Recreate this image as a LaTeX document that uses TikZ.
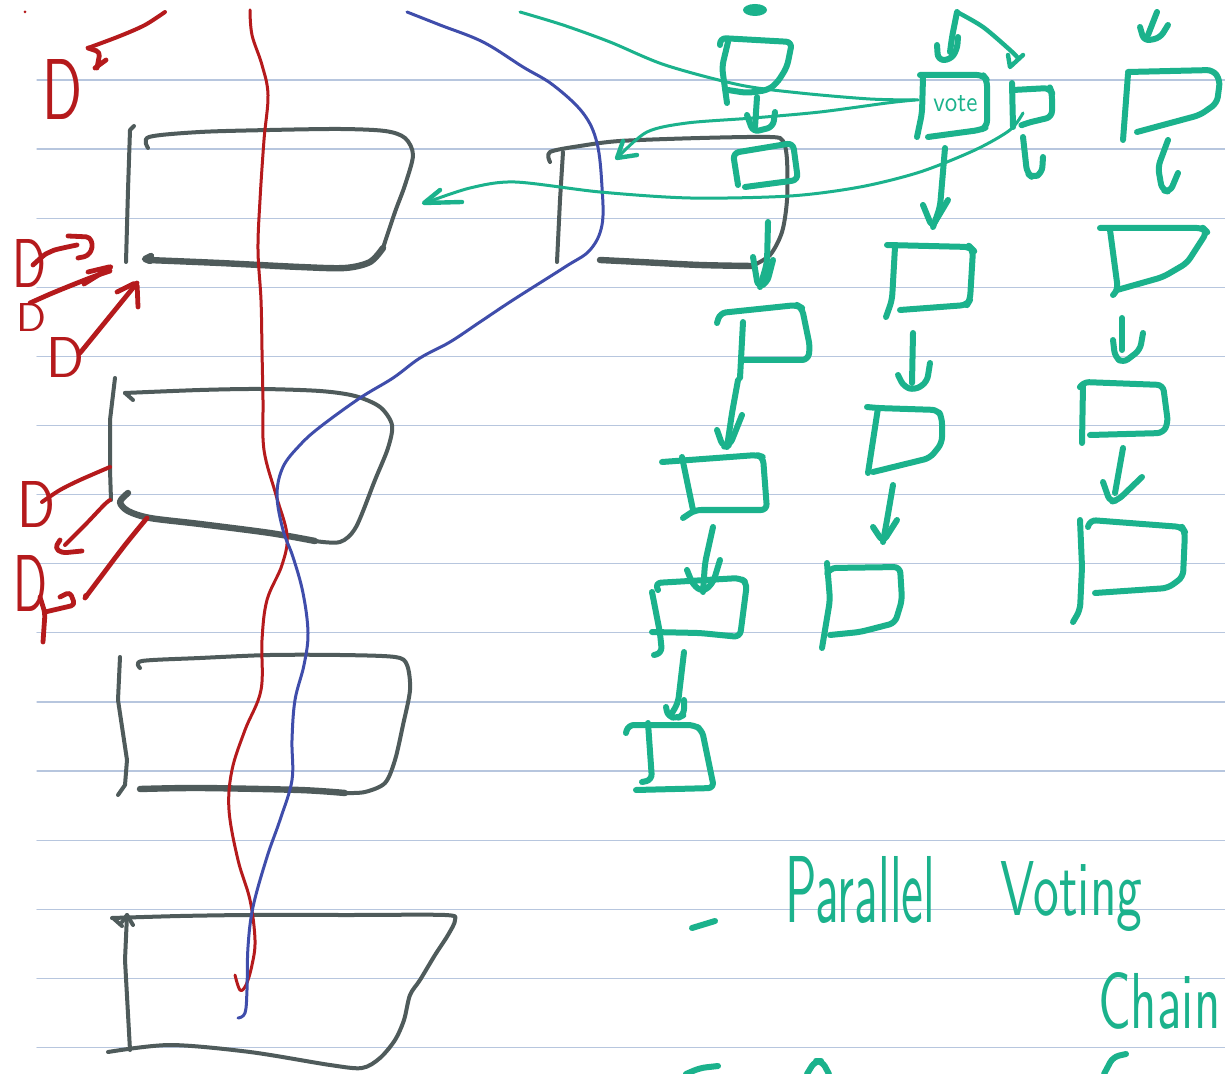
\documentclass[tikz,border=0pt]{standalone}
\usepackage{graphicx}
\definecolor{ruleblue}{HTML}{B7C6DE}
\definecolor{slate}{HTML}{4F5B5B}
\definecolor{penred}{HTML}{B51A1C}
\definecolor{penblue}{HTML}{3F4DAB}
\definecolor{pengreen}{HTML}{1BB28C}
\begin{document}
\begin{tikzpicture}[x=0.5pt,y=-0.5pt,line cap=round,line join=round,
  rule/.style={draw=ruleblue,line width=0.6pt},
  slatethin/.style={draw=slate,line width=2pt},
  slatethick/.style={draw=slate,line width=3.2pt},
  redpen/.style={draw=penred,line width=1.5pt},
  redthick/.style={draw=penred,line width=2.4pt,rounded corners=2pt},
  bluepen/.style={draw=penblue,line width=1.5pt},
  greenpen/.style={draw=pengreen,line width=3pt,rounded corners=3pt},
  greenthin/.style={draw=pengreen,line width=1.5pt},
  redletter/.style={text=penred,anchor=base west,inner sep=0pt,font=\sffamily},
  greenword/.style={text=pengreen,anchor=base west,inner sep=0pt,font=\sffamily},
]
% page and ruled lines
\path[use as bounding box,fill=white] (0,0) rectangle (1225,1074);
\clip (0,0) rectangle (1225,1074);
\foreach \k in {0,...,14}
  \draw[rule] (37,{80+69.1*\k}) -- (1225,{80+69.1*\k});

% ---------- grey blocks, left column ----------
\draw[slatethin] (134,126) -- (130,130) -- (128,190) -- (126,262);
\draw[slatethin] plot[smooth,tension=0.5] coordinates {(148,148) (149,137) (200,132) (270,130) (340,129) (385,131) (405,138) (413,155) (405,185) (395,212) (383,248)};
\draw[slatethick] plot[smooth,tension=0.5] coordinates {(383,248) (370,262) (345,268) (300,267) (220,263) (148,260)};
\draw[slatethick] (151,256) -- (145,259) -- (150,261);

\draw[slatethin] (115,378) -- (110,420) -- (110,470) -- (111,500);
\draw[slatethin] (133,400) -- (125,393);
\draw[slatethin] plot[smooth,tension=0.5] coordinates {(125,393) (200,390) (260,389) (320,391) (355,396) (380,407) (392,425) (388,448) (375,480) (356,527) (340,542) (315,541)};
\draw[slatethick] plot[smooth,tension=0.5] coordinates {(315,541) (270,533) (200,524) (150,518) (128,511) (120,502) (128,493)};

\draw[slatethin] (120,657) -- (118,700) -- (127,760) -- (125,785) -- (118,795);
\draw[slatethin] plot[smooth,tension=0.5] coordinates {(140,668) (142,661) (200,658) (270,655) (340,655) (395,657) (407,665) (410,690) (403,725) (395,760) (385,783) (365,792) (345,793)};
\draw[slatethick] plot[smooth,tension=0.5] coordinates {(345,793) (300,790) (200,788) (140,789)};

\draw[slatethin] (122,922) -- (127,915) -- (133,925);
\draw[slatethin] (127,915) -- (125,960) -- (130,1050);
\draw[slatethin] (113,918) -- (122,926);
\draw[slatethin] plot[smooth,tension=0.5] coordinates {(112,918) (180,916) (250,915) (350,915) (445,915) (455,920) (448,935) (435,955) (420,980) (410,995) (404,1020) (395,1040) (380,1058) (362,1068) (330,1065) (250,1052) (170,1045) (108,1052)};

% ---------- grey block, middle ----------
\draw[slatethin] (563,152) -- (560,200) -- (557,262);
\draw[slatethin] plot[smooth,tension=0.5] coordinates {(550,162) (550,152) (580,146) (620,141) (700,138) (770,137) (783,141) (787,160) (787,200) (782,232) (770,255) (752,266)};
\draw[slatethick] plot[smooth,tension=0.5] coordinates {(752,266) (700,265) (640,262) (600,260)};

% ---------- red and blue traces ----------
\draw[redpen] plot[smooth,tension=0.6] coordinates {(250,10) (252,35) (262,65) (268,95) (264,140) (260,200) (258,250) (261,300) (262,350) (263,400) (264,450) (276,495) (287,535) (282,565) (267,600) (262,640) (261,690) (245,730) (232,770) (229,810) (238,860) (250,900) (255,940) (252,965) (246,985) (240,990) (235,975)};
\draw[bluepen] plot[smooth,tension=0.6] coordinates {(407,12) (440,25) (483,42) (523,67) (553,85) (583,113) (597,143) (602,187) (602,225) (590,250) (565,267) (513,300) (480,322) (450,342) (420,358) (393,378) (360,398) (320,427) (300,445) (283,467) (277,495) (283,530) (293,557) (303,593) (308,633) (304,665) (295,700) (292,740) (292,780) (280,820) (267,857) (253,907) (248,947) (247,990) (245,1013) (238,1018)};

% ---------- red letters and arrows ----------
\fill[penred] (25,12) circle (1.5);
\node[redletter] (d1) at (42,120) {\resizebox{20pt}{30pt}{D}};
\draw[redthick] (88,48) -- (100,52) -- (97,68);
\draw[redthick] (95,68) -- (106,60);
\draw[redpen,line width=2pt] plot[smooth] coordinates {(88,48) (120,36) (145,25) (165,12)};

\node[redletter] (d2) at (12,288) {\resizebox{17pt}{24pt}{D}};
\draw[redthick] plot[smooth] coordinates {(33,265) (50,252) (77,245)};
\draw[redthick] (68,236) -- (90,237) -- (93,247) -- (88,256) -- (78,258);
\node[redletter] (d3) at (16,332) {\resizebox{15pt}{14pt}{D}};
\draw[redthick] plot[smooth] coordinates {(30,303) (55,292) (90,278) (110,271)};
\draw[redthick] (88,272) -- (113,266) -- (84,284);
\node[redletter] (d4) at (46,378) {\resizebox{19pt}{20pt}{D}};
\draw[redthick] (80,353) -- (137,283);
\draw[redthick] (117,292) -- (137,282) -- (138,307);

\node[redletter] (d5) at (17,528) {\resizebox{19pt}{23pt}{D}};
\draw[redpen,line width=2pt] plot[smooth] coordinates {(110,467) (80,480) (60,490) (42,502)};
\draw[redpen,line width=2pt] plot[smooth] coordinates {(110,500) (104,505) (85,525) (65,545)};
\draw[redthick] (60,540) -- (55,548) -- (62,553) -- (82,551);
\draw[redpen,line width=2.4pt] plot[smooth] coordinates {(147,518) (125,545) (100,578) (85,598)};
\fill[penred] (86,596) circle (3);
\node[redletter] (d6) at (13,611) {\resizebox{17pt}{28pt}{D}};
\draw[redthick] (40,597) -- (45,613) -- (43,642);
\draw[redthick] (45,612) -- (75,605) -- (70,592) -- (60,597);

% ---------- green chain: first column ----------
\fill[pengreen] (755,10) ellipse (12 and 6);
\draw[greenpen] (728,42) -- (722,67) -- (727,103);
\draw[greenpen] (720,45) -- (720,38) -- (792,42) -- (787,67) -- (777,83) -- (768,90) -- (747,93) -- (728,90);
\draw[greenpen] (757,97) -- (755,127);
\draw[greenpen] (747,115) -- (753,132) -- (773,127) -- (775,112);
\draw[greenpen] (738,185) -- (733,153) -- (793,143) -- (798,180) -- (745,187);
\draw[greenpen] (768,222) -- (767,263) -- (760,287);
\draw[greenpen] (753,257) -- (758,287) -- (767,283) -- (773,260);
\draw[greenpen] (717,323) -- (720,313) -- (797,305) -- (802,308) -- (810,347) -- (808,360) -- (743,360);
\draw[greenpen] (743,322) -- (740,378);
\draw[greenpen] (738,380) -- (732,413) -- (727,447);
\draw[greenpen] (717,430) -- (723,447) -- (730,445) -- (742,415);
\draw[greenpen] (662,462) -- (757,455) -- (763,457) -- (767,510) -- (695,510) -- (683,518);
\draw[greenpen] (682,457) -- (693,510);
\draw[greenpen] (713,527) -- (705,563) -- (703,592);
\draw[greenpen] (687,570) -- (693,585) -- (703,592) -- (713,583) -- (720,560);
\draw[greenpen] (658,590) -- (655,583) -- (740,578) -- (747,583) -- (740,637) -- (700,633) -- (652,632);
\draw[greenpen] (652,592) -- (660,633) -- (662,653) -- (654,655);
\draw[greenpen] (684,652) -- (678,703) -- (672,713);
\draw[greenpen] (666,707) -- (668,717) -- (678,718) -- (684,715) -- (684,700);
\draw[greenpen] (626,733) -- (628,725) -- (694,725) -- (702,730) -- (714,788) -- (636,790);
\draw[greenpen] (648,723) -- (652,780) -- (642,782);

% ---------- green chain: second column ----------
\draw[greenpen] (957,12) -- (952,37) -- (950,52);
\draw[greenpen] (937,45) -- (938,60) -- (950,60) -- (957,50) -- (958,37);
\draw[greenthin,line width=2.2pt] plot[smooth] coordinates {(957,12) (983,27) (1010,50) (1017,57)};
\draw[greenthin,line width=2.2pt] (1008,55) -- (1010,67) -- (1023,55);
\draw[greenpen] (920,75) -- (983,75) -- (987,80) -- (987,127) -- (980,130) -- (928,137);
\draw[greenpen] (923,77) -- (922,113) -- (917,137);
\node[greenword] (vote) at (933,112) {\resizebox{22pt}{8pt}{vote}};
\draw[greenpen] (1012,83) -- (1013,127);
\draw[greenpen] (1013,90) -- (1050,88) -- (1052,93) -- (1052,117) -- (1027,123) -- (1022,125);
\draw[greenpen] (1023,137) -- (1027,173) -- (1033,178) -- (1042,173) -- (1043,157);
\draw[greenpen] (945,148) -- (940,207) -- (933,227);
\draw[greenpen] (923,205) -- (932,227) -- (948,200);
\draw[greenpen] (887,245) -- (970,247) -- (973,250) -- (970,300) -- (967,305) -- (900,310);
\draw[greenpen] (895,247) -- (892,300) -- (886,317);
\draw[greenpen] (913,333) -- (912,383);
\draw[greenpen] (898,375) -- (904,387) -- (915,390) -- (927,382) -- (930,363);
\draw[greenpen] (867,407) -- (877,408) -- (938,410) -- (942,418) -- (942,443) -- (930,458) -- (873,472);
\draw[greenpen] (878,408) -- (868,473);
\draw[greenpen] (893,485) -- (887,520) -- (883,542);
\draw[greenpen] (873,527) -- (883,542) -- (897,520);
\draw[greenpen] (828,572) -- (830,568) -- (900,567) -- (902,600) -- (895,623) -- (860,632) -- (830,635);
\draw[greenpen] (827,563) -- (830,600) -- (822,648);

% ---------- green chain: third column ----------
\draw[greenpen] (1157,12) -- (1148,35);
\draw[greenpen] (1140,27) -- (1144,41) -- (1160,38) -- (1168,25);
\draw[greenpen] (1128,72) -- (1213,70) -- (1220,80) -- (1217,103) -- (1200,115) -- (1137,132);
\draw[greenpen] (1128,74) -- (1123,140);
\draw[greenpen] (1168,140) -- (1158,167) -- (1162,190) -- (1170,192) -- (1178,173);
\draw[greenpen] (1100,228) -- (1203,228) -- (1207,232) -- (1187,263) -- (1163,277) -- (1117,290);
\draw[greenpen] (1110,230) -- (1118,290) -- (1113,295);
\draw[greenpen] (1122,318) -- (1122,350);
\draw[greenpen] (1113,340) -- (1115,357) -- (1123,363) -- (1140,350) -- (1143,333);
\draw[greenpen] (1080,387) -- (1083,382) -- (1163,385) -- (1168,423) -- (1163,433) -- (1090,435);
\draw[greenpen] (1083,385) -- (1082,443);
\draw[greenpen] (1123,448) -- (1115,493);
\draw[greenpen] (1103,482) -- (1110,502) -- (1118,500) -- (1142,477);
\draw[greenpen] (1088,527) -- (1090,520) -- (1182,527) -- (1185,532) -- (1183,577) -- (1168,588) -- (1095,593);
\draw[greenpen] (1080,520) -- (1082,567) -- (1080,610) -- (1073,622);

% ---------- long green links ----------
\draw[greenthin] plot[smooth] coordinates {(520,12) (563,25) (610,42) (665,65) (740,85) (800,93) (870,99) (918,100)};
\draw[greenthin] plot[smooth] coordinates {(915,100) (887,103) (820,112) (753,118) (687,123) (647,132) (618,157)};
\draw[greenthin,line width=2.2pt] (637,155) -- (617,158) -- (623,141);
\draw[greenthin] plot[smooth] coordinates {(1023,113) (1010,130) (975,150) (920,172) (860,187) (790,196) (690,198) (600,192) (515,182) (470,188) (425,203)};
\draw[greenthin,line width=2.2pt] (440,190) -- (424,203) -- (462,202);

% ---------- caption ----------
\draw[greenpen] (692,928) -- (715,921);
\node[greenword] (parallel) at (785,922) {\resizebox{75pt}{33pt}{Parallel}};
\node[greenword] (voting) at (1000,915) {\resizebox{71pt}{27pt}{Voting}};
\node[greenword] (chain) at (1098,1028) {\resizebox{61pt}{28pt}{Chain}};
\draw[greenpen] (686,1074) -- (700,1068) -- (718,1066);
\draw[greenpen] (807,1074) -- (815,1061) -- (822,1061) -- (829,1074);
\draw[greenpen] (1104,1074) -- (1113,1057) -- (1126,1054);
\end{tikzpicture}
\end{document}
